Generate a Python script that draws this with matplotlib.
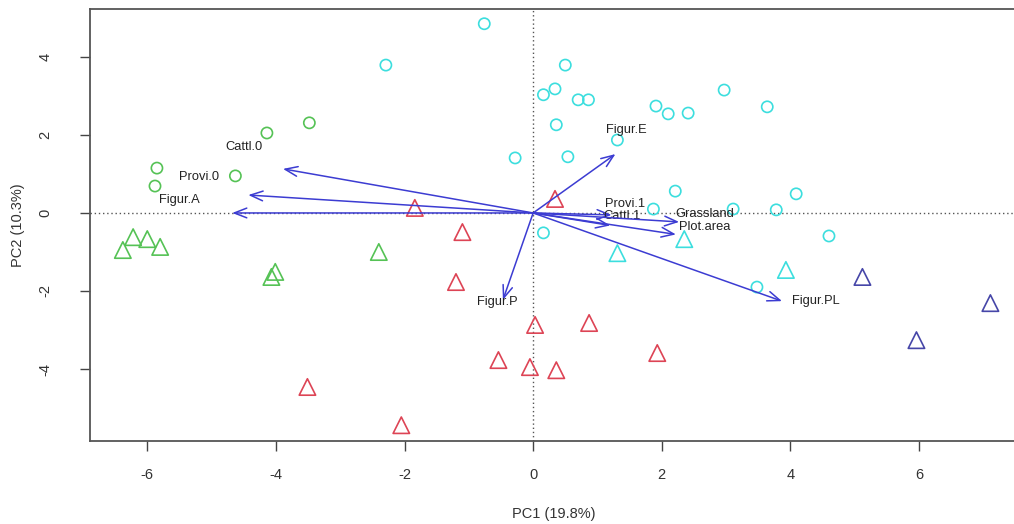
import numpy as np
import matplotlib
matplotlib.use('Agg')
import matplotlib.pyplot as plt

plt.rcParams['font.family'] = ['Liberation Sans', 'DejaVu Sans']
plt.rcParams['axes.unicode_minus'] = False

# scores - green circles
gc_x = [-3.48, -4.14, -5.85, -4.63, -5.88]
gc_y = [2.31, 2.05, 1.15, 0.95, 0.69]
# green triangles
gt_x = [-6.22, -6.00, -6.38, -5.80, -4.01, -4.07, -2.40]
gt_y = [-0.62, -0.67, -0.95, -0.87, -1.51, -1.64, -1.00]
# red triangles
rt_x = [-1.84, -1.10, -1.20, 0.34, 0.03, 0.87, 1.93, -0.54, -0.05, 0.36, -3.51, -2.05]
rt_y = [0.13, -0.49, -1.77, 0.36, -2.87, -2.82, -3.59, -3.77, -3.95, -4.03, -4.46, -5.44]
# cyan circles
cc_x = [-0.76, -2.29, 0.50, 0.34, 0.16, 0.70, 0.86, 2.97, 1.91, 2.10, 2.41, 3.64,
        0.36, -0.28, 0.54, 1.31, 2.21, 4.09, 1.87, 3.11, 3.78, 0.16, 4.60, 3.48]
cc_y = [4.85, 3.79, 3.79, 3.18, 3.03, 2.90, 2.90, 3.15, 2.74, 2.54, 2.56, 2.72,
        2.26, 1.41, 1.44, 1.87, 0.56, 0.49, 0.10, 0.10, 0.08, -0.51, -0.59, -1.90]
# cyan triangles
ct_x = [1.31, 2.35, 3.93]
ct_y = [-1.03, -0.67, -1.46]
# navy triangles
bt_x = [5.12, 7.11, 5.96]
bt_y = [-1.64, -2.31, -3.26]

# loadings (arrows)
var_names = ['Cattl.0', 'Provi.0', 'Figur.A', 'Figur.E', 'Figur.P', 'Figur.PL',
             'Provi.1', 'Cattl.1', 'Grassland', 'Plot.area']
var_x = [-3.89, -4.43, -4.68, 1.28, -0.47, 3.87, 1.22, 1.20, 2.27, 2.22]
var_y = [1.13, 0.46, 0.00, 1.51, -2.23, -2.26, -0.05, -0.32, -0.23, -0.55]
lab_x = [-4.5, -5.2, -5.5, 1.45, -0.56, 4.4, 1.43, 1.38, 2.67, 2.67]
lab_y = [1.68, 0.92, 0.33, 2.13, -2.28, -2.26, 0.22, -0.07, -0.03, -0.36]

fig = plt.figure(figsize=(10.14, 5.24), dpi=100)
ax = fig.add_axes([0.0888, 0.158, 0.9152, 0.825])

green = '#55c255'
red = '#dd4455'
cyan = '#3cdede'
navy = '#4646a8'
arrow_col = '#3c3cd2'

ax.axhline(0, color='#555555', linestyle=(0, (1, 2)), linewidth=1, zorder=1)
ax.axvline(0, color='#555555', linestyle=(0, (1, 2)), linewidth=1, zorder=1)

ax.scatter(gc_x, gc_y, s=65, marker='o', facecolors='none', edgecolors=green, linewidths=1.2)
ax.scatter(gt_x, gt_y, s=140, marker='^', facecolors='none', edgecolors=green, linewidths=1.2)
ax.scatter(rt_x, rt_y, s=140, marker='^', facecolors='none', edgecolors=red, linewidths=1.2)
ax.scatter(cc_x, cc_y, s=65, marker='o', facecolors='none', edgecolors=cyan, linewidths=1.2)
ax.scatter(ct_x, ct_y, s=140, marker='^', facecolors='none', edgecolors=cyan, linewidths=1.2)
ax.scatter(bt_x, bt_y, s=140, marker='^', facecolors='none', edgecolors=navy, linewidths=1.2)

for name, vx, vy, tx, ty in zip(var_names, var_x, var_y, lab_x, lab_y):
    ax.annotate('', xy=(vx, vy), xytext=(0, 0),
                arrowprops=dict(arrowstyle='->,head_length=0.9,head_width=0.35',
                                color=arrow_col, lw=1.1, shrinkA=0, shrinkB=0))
    ax.text(tx, ty, name, fontsize=9.3, color='#222222', ha='center', va='center')

ax.set_xlim(-6.89, 7.54)
ax.set_ylim(-5.85, 5.23)
ax.set_xticks([-6, -4, -2, 0, 2, 4, 6])
ax.set_yticks([-4, -2, 0, 2, 4])
ax.tick_params(axis='x', direction='out', length=7, width=1, colors='#444444', labelsize=10.5,
               labelcolor='#333333', pad=12)
ax.tick_params(axis='y', direction='out', length=7, width=1, colors='#444444', labelsize=10.5,
               labelcolor='#333333', pad=20)
for lab in ax.get_yticklabels():
    lab.set_rotation(90)
    lab.set_va('center')
for sp in ax.spines.values():
    sp.set_color('#555555')
    sp.set_linewidth(1.3)

ax.set_xlabel('PC1 (19.8%)', fontsize=10.5, color='#333333', labelpad=18)
ax.set_ylabel('PC2 (10.3%)', fontsize=10.5, color='#333333', labelpad=10)

fig.savefig('out.png', dpi=100)
